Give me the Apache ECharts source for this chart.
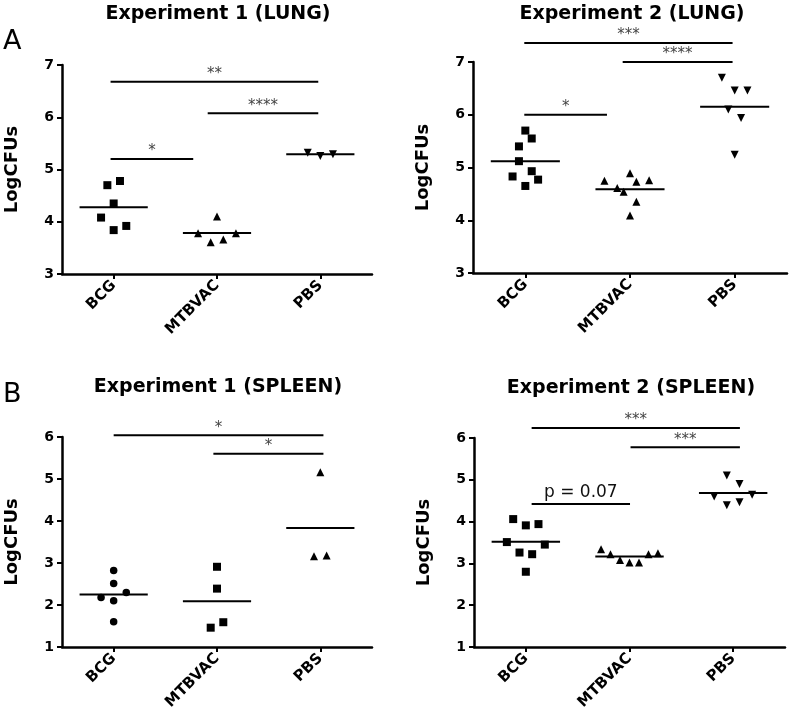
<!DOCTYPE html>
<html><head><meta charset="utf-8">
<script src="https://cdn.jsdelivr.net/npm/echarts@6/dist/echarts.min.js"></script>
<style>html,body{margin:0;padding:0;background:#fff}#c{width:790px;height:725px}</style>
</head><body><div id="c"></div>
<script>
// ---------- DATA ----------
const categories = ['BCG', 'MTBVAC', 'PBS'];
const panelTitles = ['Experiment 1 (LUNG)', 'Experiment 2 (LUNG)', 'Experiment 1 (SPLEEN)', 'Experiment 2 (SPLEEN)'];
const panelLetters = ['A', 'B'];
const yAxisName = 'LogCFUs';
const lungRange = [3, 7];
const spleenRange = [1, 6];

// Experiment 1 (LUNG)
const lung1BCG = [4.70, 4.78, 4.35, 4.08, 3.84, 3.92];
const lung1MTBVAC = [3.78, 3.61, 4.10, 3.66, 3.78];
const lung1PBS = [5.32, 5.26, 5.29];
// Experiment 2 (LUNG)
const lung2BCG = [5.70, 5.55, 5.40, 5.12, 4.93, 4.83, 4.77, 4.65];
const lung2MTBVAC = [4.75, 4.89, 4.61, 4.73, 4.76, 4.54, 4.35, 4.09];
const lung2PBS = [6.70, 6.46, 6.46, 6.10, 5.94, 5.24];
// Experiment 1 (SPLEEN)
const spleen1BCG = [2.82, 2.51, 2.18, 2.30, 2.10, 1.60];
const spleen1MTBVAC = [2.91, 2.39, 1.46, 1.59];
const spleen1PBS = [5.16, 3.16, 3.18];
// Experiment 2 (SPLEEN)
const spleen2BCG = [4.06, 3.91, 3.94, 3.51, 3.45, 3.26, 3.22, 2.80];
const spleen2MTBVAC = [3.34, 3.22, 3.08, 3.02, 3.02, 3.22, 3.24];
const spleen2PBS = [5.10, 4.90, 4.60, 4.39, 4.46, 4.64];

// scatter column slots (jitter columns, GraphPad style)
const lung1BCGSlots = [-1, 1, 0, -2, 0, 2];
const lung1MTBVACSlots = [-3, -1, 0, 1, 3];
const lung1PBSSlots = [-2, 0, 2];
const lung2BCGSlots = [0, 1, -1, -1, 1, -2, 2, 0];
const lung2MTBVACSlots = [-4, 0, -2, 1, 3, -1, 1, 0];
const lung2PBSSlots = [-2, 0, 2, -1, 1, 0];
const spleen1BCGSlots = [0, 0, -2, 2, 0, 0];
const spleen1MTBVACSlots = [0, 0, -1, 1];
const spleen1PBSSlots = [0, -1, 1];
const spleen2BCGSlots = [-2, 0, 2, -3, 3, -1, 1, 0];
const spleen2MTBVACSlots = [-4.5, -3, -1.5, 0, 1.5, 3, 4.5];
const spleen2PBSSlots = [-1, 1, -3, -1, 1, 3];

// significance brackets: [from, to, level] in category units / LogCFU
const lung1Sig = [[-0.03, 1.98, 6.68], [0.91, 1.98, 6.075], [-0.03, 0.77, 5.20]];
const lung1SigText = ['**', '****', '*'];
const lung2Sig = [[-0.01, 1.98, 7.36], [0.93, 1.98, 7.0], [-0.01, 0.78, 6.0]];
const lung2SigText = ['***', '****', '*'];
const spleen1Sig = [[0.0, 2.03, 6.04], [0.965, 2.03, 5.60]];
const spleen1SigText = ['*', '*'];
const spleen2Sig = [[0.056, 2.065, 6.24], [1.01, 2.065, 5.78], [0.056, 1.005, 4.42]];
const spleen2SigText = ['***', '***', 'p = 0.07'];

// ---------- STYLE / LAYOUT ----------
const FONT = '"DejaVu Sans", sans-serif';
const SLOT = 0.061;      // category units per jitter column
const MEAN_HALF = 0.33;  // half width of mean bar

const panels = [
  { title: panelTitles[0], titlePos: [218, 14], grid: { left: 62, top: 65, width: 310, height: 209 }, range: lungRange,
    groups: [[lung1BCG, lung1BCGSlots, 'rect', 0], [lung1MTBVAC, lung1MTBVACSlots, 'triangle', 0], [lung1PBS, lung1PBSSlots, 'triangle', 180]],
    sig: lung1Sig, sigText: lung1SigText },
  { title: panelTitles[1], titlePos: [632, 14], grid: { left: 473, top: 62, width: 314, height: 211 }, range: lungRange,
    groups: [[lung2BCG, lung2BCGSlots, 'rect', 0], [lung2MTBVAC, lung2MTBVACSlots, 'triangle', 0], [lung2PBS, lung2PBSSlots, 'triangle', 180]],
    sig: lung2Sig, sigText: lung2SigText },
  { title: panelTitles[2], titlePos: [218, 387], grid: { left: 62, top: 437, width: 310, height: 210 }, range: spleenRange,
    groups: [[spleen1BCG, spleen1BCGSlots, 'circle', 0], [spleen1MTBVAC, spleen1MTBVACSlots, 'rect', 0], [spleen1PBS, spleen1PBSSlots, 'triangle', 0]],
    sig: spleen1Sig, sigText: spleen1SigText },
  { title: panelTitles[3], titlePos: [631, 388.5], grid: { left: 474, top: 438, width: 311, height: 209 }, range: spleenRange,
    groups: [[spleen2BCG, spleen2BCGSlots, 'rect', 0], [spleen2MTBVAC, spleen2MTBVACSlots, 'triangle', 0], [spleen2PBS, spleen2PBSSlots, 'triangle', 180]],
    sig: spleen2Sig, sigText: spleen2SigText }
];
const symbolSizes = { rect: 8, triangle: 8, circle: 7.5 };

const grids = [], xAxes = [], yAxes = [], series = [];
const graphics = [];

panels.forEach((p, g) => {
  grids.push(Object.assign({ containLabel: false }, p.grid));
  xAxes.push({
    type: 'category', gridIndex: g, data: categories, boundaryGap: true,
    axisLine: { show: true, onZero: false, lineStyle: { color: '#000', width: 2.5 } },
    axisTick: { show: true, alignWithLabel: true, length: 5, lineStyle: { color: '#000', width: 2 } },
    axisLabel: { rotate: 45, margin: 9, color: '#000', fontFamily: FONT, fontWeight: 'bold', fontSize: 15 },
    splitLine: { show: false }
  });
  xAxes.push({ type: 'value', gridIndex: g, min: -0.5, max: 2.5, show: false,
    axisLine: { onZero: false } });
  yAxes.push({
    type: 'value', gridIndex: g, min: p.range[0], max: p.range[1], interval: 1,
    name: yAxisName, nameLocation: 'middle', nameGap: 41, nameRotate: 90,
    nameTextStyle: { fontFamily: FONT, fontWeight: 'bold', fontSize: 18, color: '#000' },
    axisLine: { show: true, onZero: false, lineStyle: { color: '#000', width: 2.5 } },
    axisTick: { show: true, length: 5, lineStyle: { color: '#000', width: 2 } },
    axisLabel: { margin: 8, color: '#000', fontFamily: FONT, fontWeight: 'bold', fontSize: 14 },
    splitLine: { show: false }
  });
  const valueAxis = 2 * g + 1;
  const means = [];
  p.groups.forEach((grp, ci) => {
    const [vals, slots, sym, rot] = grp;
    series.push({
      type: 'scatter', xAxisIndex: valueAxis, yAxisIndex: g,
      symbol: sym, symbolSize: symbolSizes[sym], symbolRotate: rot,
      itemStyle: { color: '#000', opacity: 1 }, silent: true, animation: false,
      data: vals.map((v, k) => [ci + slots[k] * SLOT, v])
    });
    means.push([ci, vals.reduce((a, b) => a + b, 0) / vals.length]);
  });
  series.push({
    type: 'custom', xAxisIndex: valueAxis, yAxisIndex: g, clip: false, silent: true, animation: false,
    data: means,
    renderItem: (params, api) => {
      const i = api.value(0), m = api.value(1);
      const a = api.coord([i - MEAN_HALF, m]), b = api.coord([i + MEAN_HALF, m]);
      return { type: 'line', shape: { x1: a[0], y1: a[1], x2: b[0], y2: b[1] }, style: { stroke: '#000', lineWidth: 2 } };
    }
  });
  const texts = p.sigText;
  series.push({
    type: 'custom', xAxisIndex: valueAxis, yAxisIndex: g, clip: false, silent: true, animation: false,
    data: p.sig,
    renderItem: (params, api) => {
      const x1 = api.value(0), x2 = api.value(1), y = api.value(2);
      const a = api.coord([x1, y]), b = api.coord([x2, y]);
      const txt = texts[params.dataIndex];
      const isP = txt.charAt(0) === 'p';
      return { type: 'group', children: [
        { type: 'line', shape: { x1: a[0], y1: a[1], x2: b[0], y2: b[1] }, style: { stroke: '#000', lineWidth: 2 } },
        { type: 'text', x: (a[0] + b[0]) / 2, y: a[1] - (isP ? 3 : 0),
          style: { text: txt, textAlign: 'center', textVerticalAlign: 'bottom',
                   font: (isP ? '17px ' : '15px ') + FONT, fill: isP ? '#111' : '#444' } }
      ] };
    }
  });
  graphics.push({ type: 'text', x: p.titlePos[0], y: p.titlePos[1],
    style: { text: p.title, textAlign: 'center', textVerticalAlign: 'middle', font: 'bold 19px ' + FONT, fill: '#000' } });
});
graphics.push({ type: 'text', x: 3, y: 42, style: { text: panelLetters[0], textAlign: 'left', textVerticalAlign: 'middle', font: '27px ' + FONT, fill: '#000' } });
graphics.push({ type: 'text', x: 3, y: 395, style: { text: panelLetters[1], textAlign: 'left', textVerticalAlign: 'middle', font: '27px ' + FONT, fill: '#000' } });

const chart = echarts.init(document.getElementById('c'), null, { renderer: 'canvas' });
chart.setOption({
  backgroundColor: '#fff', animation: false,
  grid: grids, xAxis: xAxes, yAxis: yAxes, series: series, graphic: graphics
});
</script></body></html>
